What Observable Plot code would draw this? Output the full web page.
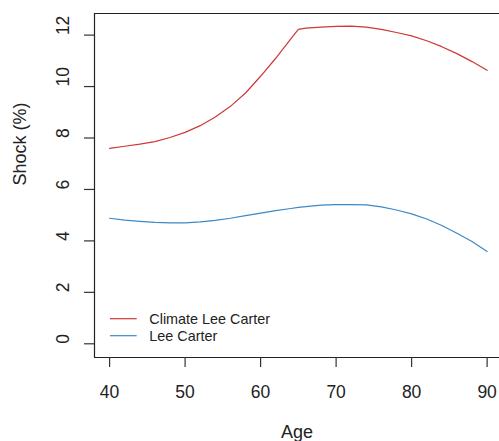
<!DOCTYPE html>
<html>
<head>
<meta charset="utf-8">
<script src="https://cdn.jsdelivr.net/npm/d3@7"></script>
<script src="https://cdn.jsdelivr.net/npm/@observablehq/plot@0.6"></script>
<style>
  html, body { margin: 0; padding: 0; background: #fff; }
</style>
</head>
<body>
<div id="chart"></div>
<script>
const ages = [40,42,44,46,48,50,52,54,56,58,60,62,64,65,66,68,70,72,74,76,78,80,82,84,86,88,90];
const climateLeeCarter = [7.6,7.68,7.76,7.86,8.02,8.22,8.48,8.82,9.23,9.75,10.4,11.1,11.85,12.22,12.27,12.31,12.34,12.35,12.31,12.22,12.10,11.97,11.78,11.55,11.28,10.97,10.63];
const leeCarter = [4.88,4.81,4.76,4.72,4.70,4.70,4.74,4.80,4.88,4.98,5.08,5.18,5.26,5.30,5.33,5.39,5.41,5.41,5.40,5.32,5.20,5.05,4.85,4.60,4.30,3.98,3.59];
const seriesNames = ["Climate Lee Carter", "Lee Carter"];
const seriesColors = ["#CD3838", "#3D88C8"];
const xTicks = [40, 50, 60, 70, 80, 90];
const yTicks = [0, 2, 4, 6, 8, 10, 12];

const rows = ages.flatMap((a, i) => [
  {age: a, value: climateLeeCarter[i], series: seriesNames[0]},
  {age: a, value: leeCarter[i], series: seriesNames[1]}
]);

const xDomain = [38, 91.64];
const yDomain = [-0.533, 12.84];
const FONT = "'Liberation Sans', Arial, sans-serif";

function legend(index, scales, values, dimensions) {
  const g = d3.create("svg:g").attr("text-anchor", "start");
  const x0 = dimensions.marginLeft;
  const yb = dimensions.height - dimensions.marginBottom;
  seriesNames.forEach((s, i) => {
    const y = yb - 38.3 + i * 17;
    g.append("line")
      .attr("x1", x0 + 16).attr("x2", x0 + 42.7)
      .attr("y1", y).attr("y2", y)
      .attr("stroke", seriesColors[i]).attr("stroke-width", 1.2);
    g.append("text")
      .attr("x", x0 + 55.3).attr("y", y).attr("dy", "0.35em")
      .attr("text-anchor", "start")
      .attr("font-size", 14.4).attr("fill", "#222")
      .attr("font-family", FONT)
      .text(s);
  });
  return g.node();
}

const chart = Plot.plot({
  width: 499,
  height: 441,
  marginTop: 13,
  marginLeft: 94,
  marginRight: 0,
  marginBottom: 84,
  style: {fontFamily: FONT, background: "white", color: "#222"},
  x: {domain: xDomain},
  y: {domain: yDomain},
  color: {domain: seriesNames, range: seriesColors},
  marks: [
    Plot.lineY(rows, {x: "age", y: "value", z: "series", stroke: "series", strokeWidth: 1.2}),
    Plot.ruleY([yDomain[0], yDomain[1]], {stroke: "#222", strokeWidth: 1.2}),
    Plot.ruleX([xDomain[0]], {stroke: "#222", strokeWidth: 1.2}),
    Plot.axisX({ticks: xTicks, tickSize: 10, tickPadding: 18, fontSize: 17.5, label: null, stroke: "#333", strokeWidth: 1.2, tickFormat: d => String(d)}),
    Plot.axisY({ticks: yTicks, tickSize: 10, label: null, stroke: "#333", strokeWidth: 1.2, tickFormat: () => ""}),
    Plot.text(yTicks, {y: d => d, text: d => String(d), frameAnchor: "left", dx: -31, rotate: -90, fontSize: 17.5, fill: "#222"}),
    Plot.text(["Shock (%)"], {text: d => d, frameAnchor: "left", dx: -74, rotate: -90, fontSize: 18, fill: "#222"}),
    Plot.text(["Age"], {text: d => d, frameAnchor: "bottom", dy: 80, fontSize: 18, fill: "#222"}),
    legend
  ]
});
document.getElementById("chart").appendChild(chart);
</script>
</body>
</html>
